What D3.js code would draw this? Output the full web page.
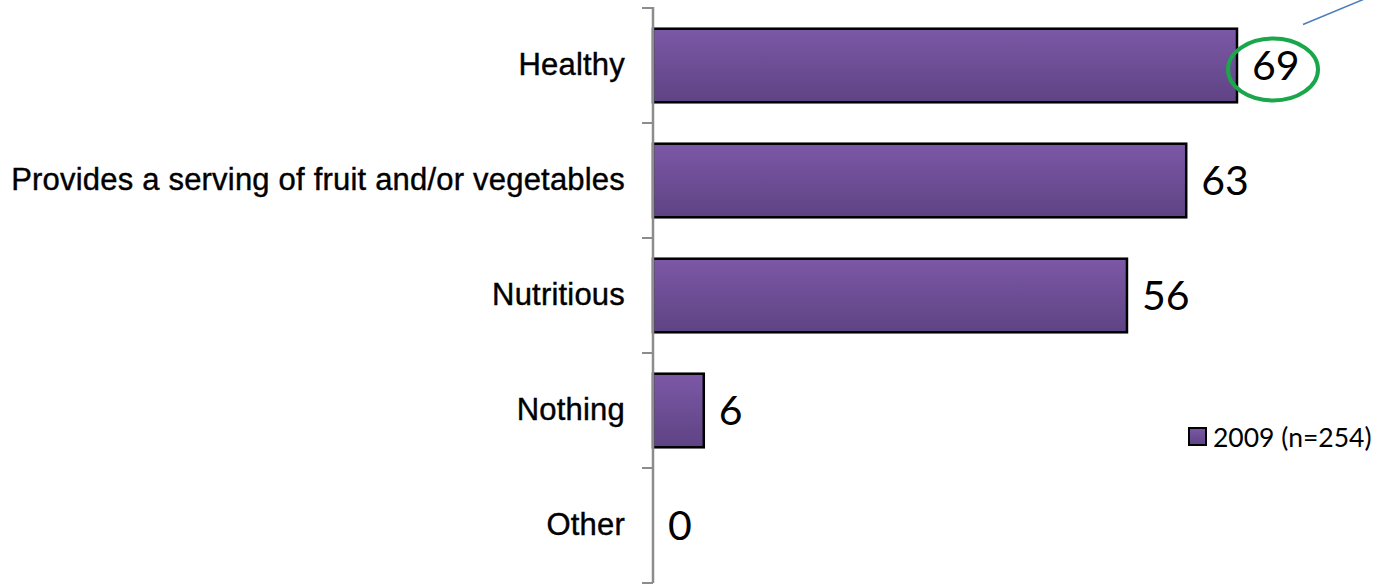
<!DOCTYPE html>
<html>
<head>
<meta charset="utf-8">
<script src="https://cdn.jsdelivr.net/npm/d3@7"></script>
<style>
  html, body { margin: 0; padding: 0; background: #fff; }
  svg { display: block; }
</style>
</head>
<body>
<svg id="chart" width="1380" height="584"></svg>
<script>
// Survey responses, 2009 (n=254)
const categories = ["Healthy", "Provides a serving of fruit and/or vegetables", "Nutritious", "Nothing", "Other"];
const values = [69, 63, 56, 6, 0];
const seriesName = "2009 (n=254)";
const highlighted = "Healthy";

const svg = d3.select("#chart");
const x0 = 653;

const x = d3.scaleLinear().domain([0, 69]).range([x0, 1237]);
const y = d3.scaleBand().domain(categories).range([8, 583]).paddingInner(0.36).paddingOuter(0.18);

// Bar fill gradient
const defs = svg.append("defs");
const grad = defs.append("linearGradient").attr("id", "barGrad")
  .attr("x1", 0).attr("y1", 0).attr("x2", 0).attr("y2", 1);
grad.append("stop").attr("offset", "0%").attr("stop-color", "#7c58a6");
grad.append("stop").attr("offset", "100%").attr("stop-color", "#5e4384");

// Bars
const rows = categories.map((c, i) => ({ c, v: values[i] }));
svg.selectAll("rect.bar").data(rows.filter(d => d.v > 0)).join("rect")
  .attr("class", "bar")
  .attr("x", x(0))
  .attr("y", d => y(d.c))
  .attr("width", d => x(d.v) - x(0))
  .attr("height", y.bandwidth())
  .attr("fill", "url(#barGrad)")
  .attr("stroke", "#000")
  .attr("stroke-width", 2.5);

// Category axis
const axis = d3.axisLeft(y).tickSize(0).tickPadding(28);
const gAxis = svg.append("g").attr("transform", `translate(${x0},0)`).call(axis);
gAxis.select(".domain").remove();
gAxis.selectAll("text")
  .attr("font-family", "'Liberation Sans', Arial, sans-serif")
  .attr("font-size", 31)
  .attr("letter-spacing", 0.2)
  .attr("fill", "#000")
  .attr("stroke", "#000")
  .attr("stroke-width", 0.4);

// Axis line and boundary ticks between categories
const boundaries = categories.map(c => y(c) - y.step() * y.paddingInner() / 2);
boundaries.push(583);
svg.append("line").attr("x1", x0).attr("x2", x0).attr("y1", 7).attr("y2", 583)
  .attr("stroke", "#8c8c8c").attr("stroke-width", 2.5);
svg.selectAll("line.btick").data(boundaries).join("line")
  .attr("class", "btick")
  .attr("x1", x0 - 11).attr("x2", x0)
  .attr("y1", d => d).attr("y2", d => d)
  .attr("stroke", "#8c8c8c").attr("stroke-width", 2);

// Value labels
svg.selectAll("text.val").data(rows).join("text")
  .attr("class", "val")
  .attr("x", d => x(d.v) + 15)
  .attr("y", d => y(d.c) + y.bandwidth() / 2)
  .attr("dy", "0.36em")
  .attr("font-family", "Lato, 'Open Sans', sans-serif")
  .attr("font-size", 41)
  .attr("fill", "#000")
  .text(d => d.v);

// Highlight ring around the top value with a callout line
const hv = rows.find(d => d.c === highlighted);
const cx = x(hv.v) + 36, cy = y(hv.c) + y.bandwidth() / 2 + 4;
svg.append("ellipse")
  .attr("cx", cx).attr("cy", cy).attr("rx", 45).attr("ry", 31)
  .attr("fill", "none").attr("stroke", "#1aa64a").attr("stroke-width", 4);
svg.append("line")
  .attr("x1", cx + 30).attr("y1", cy - 45)
  .attr("x2", cx + 95).attr("y2", cy - 72)
  .attr("stroke", "#4a7ebb").attr("stroke-width", 1.5);

// Legend
const lg = svg.append("g").attr("transform", "translate(1189,428)");
lg.append("rect").attr("width", 17).attr("height", 17)
  .attr("fill", "url(#barGrad)").attr("stroke", "#000").attr("stroke-width", 2);
lg.append("text").attr("x", 24).attr("y", 9).attr("dy", "0.36em")
  .attr("font-family", "Lato, 'Open Sans', sans-serif")
  .attr("font-size", 26.5).attr("fill", "#000")
  .text(seriesName);
</script>
</body>
</html>
